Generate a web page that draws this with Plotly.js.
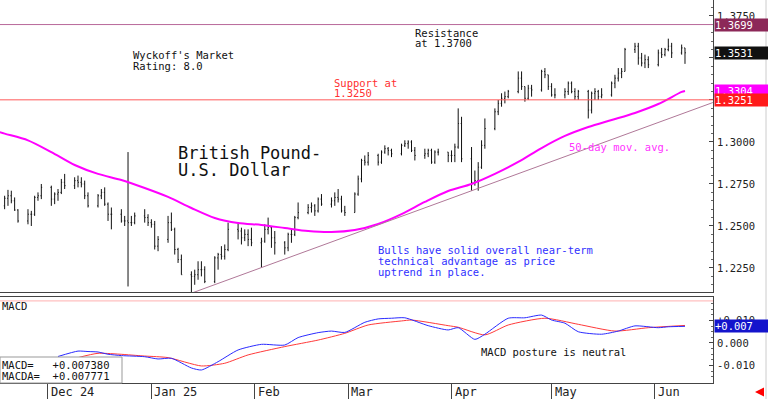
<!DOCTYPE html>
<html><head><meta charset="utf-8">
<script src="https://cdn.plot.ly/plotly-3.0.1.min.js"></script>
<style>html,body{margin:0;padding:0;background:#fff}#chart{width:768px;height:399px}</style>
</head><body><div id="chart"></div>
<script>
// ---------- DATA ----------
const dates = [
 '2024-11-18','2024-11-19','2024-11-20','2024-11-21','2024-11-22','2024-11-25','2024-11-26','2024-11-27','2024-11-28','2024-11-29',
 '2024-12-02','2024-12-03','2024-12-04','2024-12-05','2024-12-06','2024-12-09','2024-12-10','2024-12-11','2024-12-12','2024-12-13',
 '2024-12-16','2024-12-17','2024-12-18','2024-12-19','2024-12-20','2024-12-23','2024-12-24','2024-12-25','2024-12-26','2024-12-27','2024-12-30','2024-12-31',
 '2025-01-01','2025-01-02','2025-01-03','2025-01-06','2025-01-07','2025-01-08','2025-01-09','2025-01-10','2025-01-13','2025-01-14','2025-01-15','2025-01-16','2025-01-17',
 '2025-01-20','2025-01-21','2025-01-22','2025-01-23','2025-01-24','2025-01-27','2025-01-28','2025-01-29','2025-01-30','2025-01-31',
 '2025-02-03','2025-02-04','2025-02-05','2025-02-06','2025-02-07','2025-02-10','2025-02-11','2025-02-12','2025-02-13','2025-02-14',
 '2025-02-17','2025-02-18','2025-02-19','2025-02-20','2025-02-21','2025-02-24','2025-02-25','2025-02-26','2025-02-27','2025-02-28',
 '2025-03-03','2025-03-04','2025-03-05','2025-03-06','2025-03-07','2025-03-10','2025-03-11','2025-03-12','2025-03-13','2025-03-14',
 '2025-03-17','2025-03-18','2025-03-19','2025-03-20','2025-03-21','2025-03-24','2025-03-25','2025-03-26','2025-03-27','2025-03-28','2025-03-31',
 '2025-04-01','2025-04-02','2025-04-03','2025-04-04','2025-04-07','2025-04-08','2025-04-09','2025-04-10','2025-04-11',
 '2025-04-14','2025-04-15','2025-04-16','2025-04-17','2025-04-18','2025-04-21','2025-04-22','2025-04-23','2025-04-24','2025-04-25','2025-04-28','2025-04-29','2025-04-30',
 '2025-05-01','2025-05-02','2025-05-05','2025-05-06','2025-05-07','2025-05-08','2025-05-09','2025-05-12','2025-05-13','2025-05-14','2025-05-15','2025-05-16',
 '2025-05-19','2025-05-20','2025-05-21','2025-05-22','2025-05-23','2025-05-26','2025-05-27','2025-05-28','2025-05-29','2025-05-30',
 '2025-06-02','2025-06-03','2025-06-04','2025-06-05','2025-06-06','2025-06-09','2025-06-10'
];
const open = [
 1.2620,1.2665,1.2680,1.2650,1.2595,1.2530,1.2570,1.2570,1.2670,1.2680,
 1.2730,1.2660,1.2690,1.2700,1.2760,1.2740,1.2770,1.2760,1.2750,1.2680,
 1.2620,1.2680,1.2700,1.2630,1.2570,1.2570,1.2530,1.2530,1.2520,1.2520,1.2560,1.2550,
 1.2520,1.2510,1.2380,1.2420,1.2520,1.2480,1.2360,1.2300,1.2210,1.2200,1.2210,1.2240,1.2240,
 1.2170,1.2310,1.2330,1.2320,1.2360,1.2480,1.2470,1.2430,1.2450,1.2420,
 1.2400,1.2410,1.2480,1.2490,1.2430,1.2400,1.2370,1.2450,1.2450,1.2550,
 1.2580,1.2610,1.2620,1.2590,1.2660,1.2630,1.2650,1.2670,1.2660,1.2590,
 1.2580,1.2690,1.2780,1.2890,1.2880,1.2920,1.2880,1.2940,1.2960,1.2950,
 1.2930,1.2980,1.2990,1.3000,1.2950,1.2920,1.2930,1.2950,1.2880,1.2940,1.2940,
 1.2920,1.2920,1.2970,1.3110,1.2900,1.2760,1.2770,1.2850,1.2980,
 1.3080,1.3180,1.3230,1.3260,1.3270,1.3300,1.3380,1.3330,1.3260,1.3320,1.3310,1.3420,1.3400,
 1.3330,1.3280,1.3280,1.3300,1.3350,1.3300,1.3270,1.3300,1.3190,1.3290,1.3300,1.3270,
 1.3280,1.3350,1.3380,1.3410,1.3420,1.3550,1.3570,1.3500,1.3470,1.3490,
 1.3460,1.3530,1.3520,1.3550,1.3570,1.3530,1.3560
];
const high = [
 1.2680,1.2715,1.2710,1.2670,1.2600,1.2600,1.2590,1.2680,1.2700,1.2750,
 1.2740,1.2700,1.2720,1.2780,1.2810,1.2790,1.2800,1.2790,1.2770,1.2700,
 1.2690,1.2720,1.2730,1.2640,1.2610,1.2600,1.2560,1.2940,1.2560,1.2580,1.2600,1.2570,
 1.2540,1.2530,1.2440,1.2560,1.2580,1.2490,1.2370,1.2330,1.2230,1.2240,1.2290,1.2290,1.2260,
 1.2320,1.2340,1.2380,1.2390,1.2520,1.2520,1.2490,1.2480,1.2480,1.2490,
 1.2430,1.2510,1.2550,1.2500,1.2470,1.2410,1.2460,1.2480,1.2560,1.2640,
 1.2630,1.2640,1.2630,1.2670,1.2690,1.2670,1.2700,1.2720,1.2680,1.2620,
 1.2700,1.2800,1.2900,1.2920,1.2940,1.2930,1.2950,1.2980,1.2970,1.2960,
 1.2990,1.3010,1.3010,1.3010,1.2970,1.2960,1.2960,1.2960,1.2950,1.2960,1.2940,
 1.2950,1.2990,1.3200,1.3150,1.2970,1.2830,1.2880,1.3010,1.3140,
 1.3200,1.3250,1.3290,1.3300,1.3310,1.3420,1.3420,1.3330,1.3340,1.3340,1.3430,1.3440,1.3400,
 1.3350,1.3320,1.3320,1.3360,1.3360,1.3320,1.3310,1.3310,1.3300,1.3320,1.3310,1.3320,
 1.3360,1.3400,1.3440,1.3440,1.3560,1.3590,1.3590,1.3530,1.3520,1.3510,
 1.3550,1.3560,1.3560,1.3615,1.3590,1.3580,1.3560
];
const low = [
 1.2600,1.2620,1.2635,1.2590,1.2520,1.2510,1.2500,1.2560,1.2650,1.2660,
 1.2620,1.2630,1.2650,1.2690,1.2720,1.2720,1.2730,1.2730,1.2660,1.2610,
 1.2610,1.2660,1.2620,1.2530,1.2480,1.2520,1.2500,1.2140,1.2500,1.2510,1.2520,1.2500,
 1.2490,1.2360,1.2350,1.2400,1.2470,1.2330,1.2280,1.2210,1.2100,1.2150,1.2180,1.2200,1.2160,
 1.2160,1.2240,1.2300,1.2300,1.2350,1.2420,1.2390,1.2410,1.2380,1.2380,
 1.2250,1.2400,1.2450,1.2370,1.2330,1.2330,1.2350,1.2400,1.2440,1.2540,
 1.2570,1.2580,1.2560,1.2580,1.2620,1.2610,1.2620,1.2640,1.2580,1.2560,
 1.2580,1.2680,1.2760,1.2860,1.2860,1.2860,1.2870,1.2930,1.2920,1.2910,
 1.2920,1.2970,1.2960,1.2940,1.2890,1.2900,1.2910,1.2870,1.2870,1.2920,1.2880,
 1.2880,1.2880,1.2960,1.2880,1.2710,1.2740,1.2710,1.2840,1.2960,
 1.3070,1.3160,1.3210,1.3230,1.3260,1.3290,1.3310,1.3240,1.3250,1.3270,1.3300,1.3380,1.3310,
 1.3270,1.3260,1.3260,1.3280,1.3290,1.3250,1.3250,1.3140,1.3170,1.3250,1.3250,1.3260,
 1.3270,1.3320,1.3360,1.3380,1.3420,1.3530,1.3460,1.3450,1.3440,1.3440,
 1.3450,1.3500,1.3510,1.3540,1.3500,1.3520,1.3465
];
const close = [
 1.2665,1.2680,1.2650,1.2595,1.2530,1.2570,1.2570,1.2670,1.2680,1.2730,
 1.2660,1.2690,1.2700,1.2760,1.2740,1.2770,1.2760,1.2750,1.2680,1.2620,
 1.2680,1.2700,1.2630,1.2570,1.2570,1.2530,1.2530,1.2520,1.2520,1.2560,1.2550,1.2520,
 1.2510,1.2380,1.2420,1.2520,1.2480,1.2360,1.2300,1.2210,1.2200,1.2210,1.2240,1.2240,1.2170,
 1.2310,1.2330,1.2320,1.2360,1.2480,1.2470,1.2430,1.2450,1.2420,1.2400,
 1.2410,1.2480,1.2490,1.2430,1.2400,1.2370,1.2450,1.2450,1.2550,1.2580,
 1.2610,1.2620,1.2590,1.2660,1.2630,1.2650,1.2670,1.2660,1.2590,1.2580,
 1.2690,1.2780,1.2890,1.2880,1.2920,1.2880,1.2940,1.2960,1.2950,1.2930,
 1.2980,1.2990,1.3000,1.2950,1.2920,1.2930,1.2950,1.2880,1.2940,1.2940,1.2920,
 1.2920,1.2970,1.3110,1.2900,1.2760,1.2770,1.2850,1.2980,1.3080,
 1.3180,1.3230,1.3260,1.3270,1.3300,1.3380,1.3330,1.3260,1.3320,1.3310,1.3420,1.3400,1.3330,
 1.3280,1.3280,1.3300,1.3350,1.3300,1.3270,1.3300,1.3190,1.3290,1.3300,1.3270,1.3280,
 1.3350,1.3380,1.3410,1.3420,1.3550,1.3570,1.3500,1.3470,1.3490,1.3460,
 1.3530,1.3520,1.3550,1.3570,1.3530,1.3560,1.3531
];

const maDates = ['2024-11-15','2024-11-18','2024-11-25','2024-12-02','2024-12-09','2024-12-16','2024-12-23','2024-12-30',
 '2025-01-06','2025-01-13','2025-01-20','2025-01-27','2025-02-03','2025-02-10','2025-02-17','2025-02-24',
 '2025-03-03','2025-03-10','2025-03-17','2025-03-24','2025-03-31','2025-04-07','2025-04-14','2025-04-21','2025-04-28',
 '2025-05-05','2025-05-12','2025-05-19','2025-05-26','2025-06-02','2025-06-09','2025-06-10'];
const maVals = [1.3068,1.3050,1.3010,1.2940,1.2863,1.2810,1.2774,1.2726,
 1.2673,1.2607,1.2548,1.2518,1.2506,1.2488,1.2470,1.2464,
 1.2476,1.2512,1.2571,1.2643,1.2708,1.2750,1.2810,1.2881,1.2964,
 1.3036,1.3089,1.3131,1.3173,1.3226,1.3298,1.3304];

const trendDates = ['2025-01-13','2025-06-18 09:00'];
const trendVals = [1.2100, 1.3235];

const resistance = 1.3699;
const support = 1.3251;
const lastPrice = 1.3531;
const lastMA = 1.3304;

const macdDates = ['2024-12-04','2024-12-10','2024-12-13','2024-12-16','2024-12-19','2024-12-23','2024-12-30','2025-01-03','2025-01-07','2025-01-13',
 '2025-01-16','2025-01-21','2025-01-27','2025-02-03','2025-02-10','2025-02-14','2025-02-20','2025-02-24','2025-02-28','2025-03-06',
 '2025-03-10','2025-03-14','2025-03-18','2025-03-25','2025-03-31','2025-04-03','2025-04-08','2025-04-11','2025-04-18','2025-04-23',
 '2025-04-28','2025-05-01','2025-05-05','2025-05-09','2025-05-16','2025-05-21','2025-05-26','2025-06-02','2025-06-05','2025-06-10'];
const macdVals = [-0.0060,-0.0036,-0.0038,-0.0040,-0.0050,-0.0056,-0.0061,-0.0071,-0.0068,-0.0111,
 -0.0120,-0.0083,-0.0031,-0.0006,-0.0009,0.0024,0.0046,0.0053,0.0047,0.0092,
 0.0107,0.0110,0.0112,0.0077,0.0058,0.0068,0.0016,0.0039,0.0110,0.0112,
 0.0124,0.0102,0.0088,0.0050,0.0039,0.0053,0.0076,0.0068,0.0072,0.0074];
const signalDates = ['2024-12-10','2024-12-16','2024-12-30','2025-01-06','2025-01-16','2025-01-23','2025-01-30','2025-02-10','2025-02-20','2025-02-28',
 '2025-03-07','2025-03-17','2025-03-20','2025-03-31','2025-04-03','2025-04-11','2025-04-18','2025-04-29','2025-05-09','2025-05-20','2025-05-30','2025-06-10'];
const signalVals = [-0.0065,-0.0046,-0.0058,-0.0065,-0.0102,-0.0090,-0.0053,-0.0016,0.0013,0.0043,
 0.0080,0.0098,0.0102,0.0077,0.0070,0.0036,0.0080,0.0110,0.0083,0.0053,0.0068,0.0078];
const macdUpper = 0.0187;
const macdLast = 0.00738;
const macdText = ['MACD=\u00a0\u00a0\u00a0+0.007380', 'MACDA=\u00a0\u00a0+0.007771'];

// tick labels hidden behind the price boxes are left blank
const priceTicks = [1.225,1.25,1.275,1.30,1.325,1.35,1.375];
const priceTickText = ['1.2250','1.2500','1.2750','1.3000','','','1.3750'];
const macdTicks = [-0.01,0,0.01];
const macdTickText = ['-0.010','0.000','+0.010'];
const monthDates = ['2024-12-01','2025-01-01','2025-02-01','2025-03-01','2025-04-01','2025-05-01','2025-06-01'];
const monthLabels = ['Dec 24','Jan 25','Feb','Mar','Apr','May','Jun'];

// ---------- LAYOUT HELPERS ----------
const FONT = 'DejaVu Sans Mono, monospace';
const PW = 713, PH = 383;
const px = v => v / PW;
const py = v => (PH - v) / PH;
function txt(text, x, y, color, size) {
  return {xref:'paper', yref:'paper', x:px(x), y:py(y), xanchor:'left', yanchor:'middle',
          text:text, showarrow:false, font:{family:FONT, size:size||10.5, color:color||'#111'}};
}
function box(val, yref, label, bg) {
  return {xref:'paper', yref:yref, x:1, y:val, xanchor:'left', yanchor:'middle', xshift:1,
          text:label, showarrow:false, bgcolor:bg, width:53, height:12, align:'left', borderpad:0,
          font:{family:FONT, size:10.5, color:'#ffffff'}};
}

const range = ['2024-11-16 14:38', '2025-06-18 09:35'];

const traces = [
  {type:'ohlc', x:dates, open:open, high:high, low:low, close:close, xaxis:'x', yaxis:'y',
   increasing:{line:{color:'#111', width:1}}, decreasing:{line:{color:'#111', width:1}},
   tickwidth:0.25, hoverinfo:'skip', showlegend:false},
  {type:'scatter', mode:'lines', x:maDates, y:maVals, xaxis:'x', yaxis:'y',
   line:{color:'#ff00ff', width:2, shape:'spline', smoothing:0.8}, hoverinfo:'skip', showlegend:false},
  {type:'scatter', mode:'lines', x:trendDates, y:trendVals, xaxis:'x', yaxis:'y',
   line:{color:'#b07898', width:1}, hoverinfo:'skip', showlegend:false},
  {type:'scatter', mode:'lines', x:signalDates, y:signalVals, xaxis:'x2', yaxis:'y2',
   line:{color:'#ff3a3a', width:1, shape:'spline', smoothing:0.6}, hoverinfo:'skip', showlegend:false},
  {type:'scatter', mode:'lines', x:macdDates, y:macdVals, xaxis:'x2', yaxis:'y2',
   line:{color:'#2a2aff', width:1, shape:'spline', smoothing:0.6}, hoverinfo:'skip', showlegend:false}
];

const annotations = [
  txt("Wyckoff's Market", 131, 55),
  txt('Rating: 8.0', 131, 65.5),
  txt('Resistance', 413, 33),
  txt('at 1.3700', 413, 43.5),
  txt('Support at', 332, 83, '#ff3030'),
  txt('1.3250', 332, 93, '#ff3030'),
  txt('British Pound-', 176, 153, '#111', 17),
  txt('U.S. Dollar', 176, 170, '#111', 17),
  txt('50-day mov. avg.', 567, 147, '#ff33ff'),
  txt('Bulls have solid overall near-term', 376, 250, '#3030ff'),
  txt('technical advantage as price', 376, 260.7, '#3030ff'),
  txt('uptrend in place.', 376, 271.5, '#3030ff'),
  txt('MACD', 0, 306),
  txt('MACD posture is neutral', 479, 352),
  txt(macdText[0], 0, 364.5),
  txt(macdText[1], 0, 376),
  box(resistance, 'y', resistance.toFixed(4), '#8c2858'),
  box(lastPrice, 'y', lastPrice.toFixed(4), '#111111'),
  box(lastMA, 'y', lastMA.toFixed(4), '#ff00ff'),
  box(support, 'y', support.toFixed(4), '#ff1a1a'),
  box(macdLast, 'y2', '+' + macdLast.toFixed(3), '#1414cc'),
  {xref:'paper', yref:'paper', x:px(755), y:py(392), ax:10, ay:0, text:'', showarrow:true,
   arrowhead:2, arrowsize:0.9, arrowwidth:2, arrowcolor:'#ff0000'}
];
monthDates.forEach((d, i) => annotations.push({
  xref:'x2', yref:'paper', x:d, y:0, xanchor:'left', yanchor:'top', xshift:1, yshift:0,
  text:monthLabels[i], showarrow:false, font:{family:FONT, size:12, color:'#222'}
}));

const shapes = [
  {type:'line', xref:'paper', x0:0, x1:1, yref:'y', y0:resistance, y1:resistance, line:{color:'#b8689a', width:1}},
  {type:'line', xref:'paper', x0:0, x1:1, yref:'y', y0:support, y1:support, line:{color:'#ff5a5a', width:1}},
  {type:'line', xref:'paper', x0:0, x1:1, yref:'y2', y0:macdUpper, y1:macdUpper, line:{color:'#ffb0b0', width:1}},
  {type:'rect', xref:'paper', x0:0, x1:px(122), yref:'paper', y0:0, y1:py(357), fillcolor:'#ffffff', line:{color:'#999', width:1}, layer:'above'},
  {type:'line', xref:'paper', x0:px(766), x1:px(766), yref:'paper', y0:py(399), y1:1, line:{color:'#cccccc', width:1}}
];

const axisCommon = {showgrid:false, zeroline:false, showline:true, linecolor:'#444', linewidth:1};

const layout = {
  width:768, height:399,
  margin:{l:0, r:55, t:0, b:16, pad:0},
  paper_bgcolor:'#ffffff', plot_bgcolor:'#ffffff',
  showlegend:false,
  xaxis: Object.assign({}, axisCommon, {type:'date', range:range, anchor:'y', domain:[0,1],
          ticks:'', showticklabels:false, rangeslider:{visible:false}}),
  xaxis2: Object.assign({}, axisCommon, {type:'date', range:range, anchor:'y2', domain:[0,1], matches:'x',
          mirror:true, ticks:'outside', ticklen:16, tickcolor:'#444', tickmode:'array', tickvals:monthDates,
          showticklabels:false}),
  yaxis: Object.assign({}, axisCommon, {domain:[(PH-292)/PH, 1], anchor:'x', side:'right',
          range:[1.21071, 1.38452], tickmode:'array', tickvals:priceTicks, ticktext:priceTickText,
          ticks:'inside', ticklen:4, tickcolor:'#444', ticklabelstandoff:1,
          tickfont:{family:FONT, size:10.5, color:'#222'},
          minor:{ticks:'inside', ticklen:2, tickcolor:'#666', dtick:0.005, tick0:1.2}}),
  yaxis2: Object.assign({}, axisCommon, {domain:[0, (PH-297)/PH], anchor:'x2', side:'right',
          range:[-0.01778, 0.02044], tickmode:'array', tickvals:macdTicks, ticktext:macdTickText,
          ticks:'inside', ticklen:4, tickcolor:'#444', ticklabelstandoff:1,
          tickfont:{family:FONT, size:10.5, color:'#222'},
          minor:{ticks:'inside', ticklen:2, tickcolor:'#666', dtick:0.0025, tick0:0}}),
  annotations:annotations,
  shapes:shapes
};

Plotly.newPlot('chart', traces, layout, {staticPlot:true, displayModeBar:false});
</script></body></html>
